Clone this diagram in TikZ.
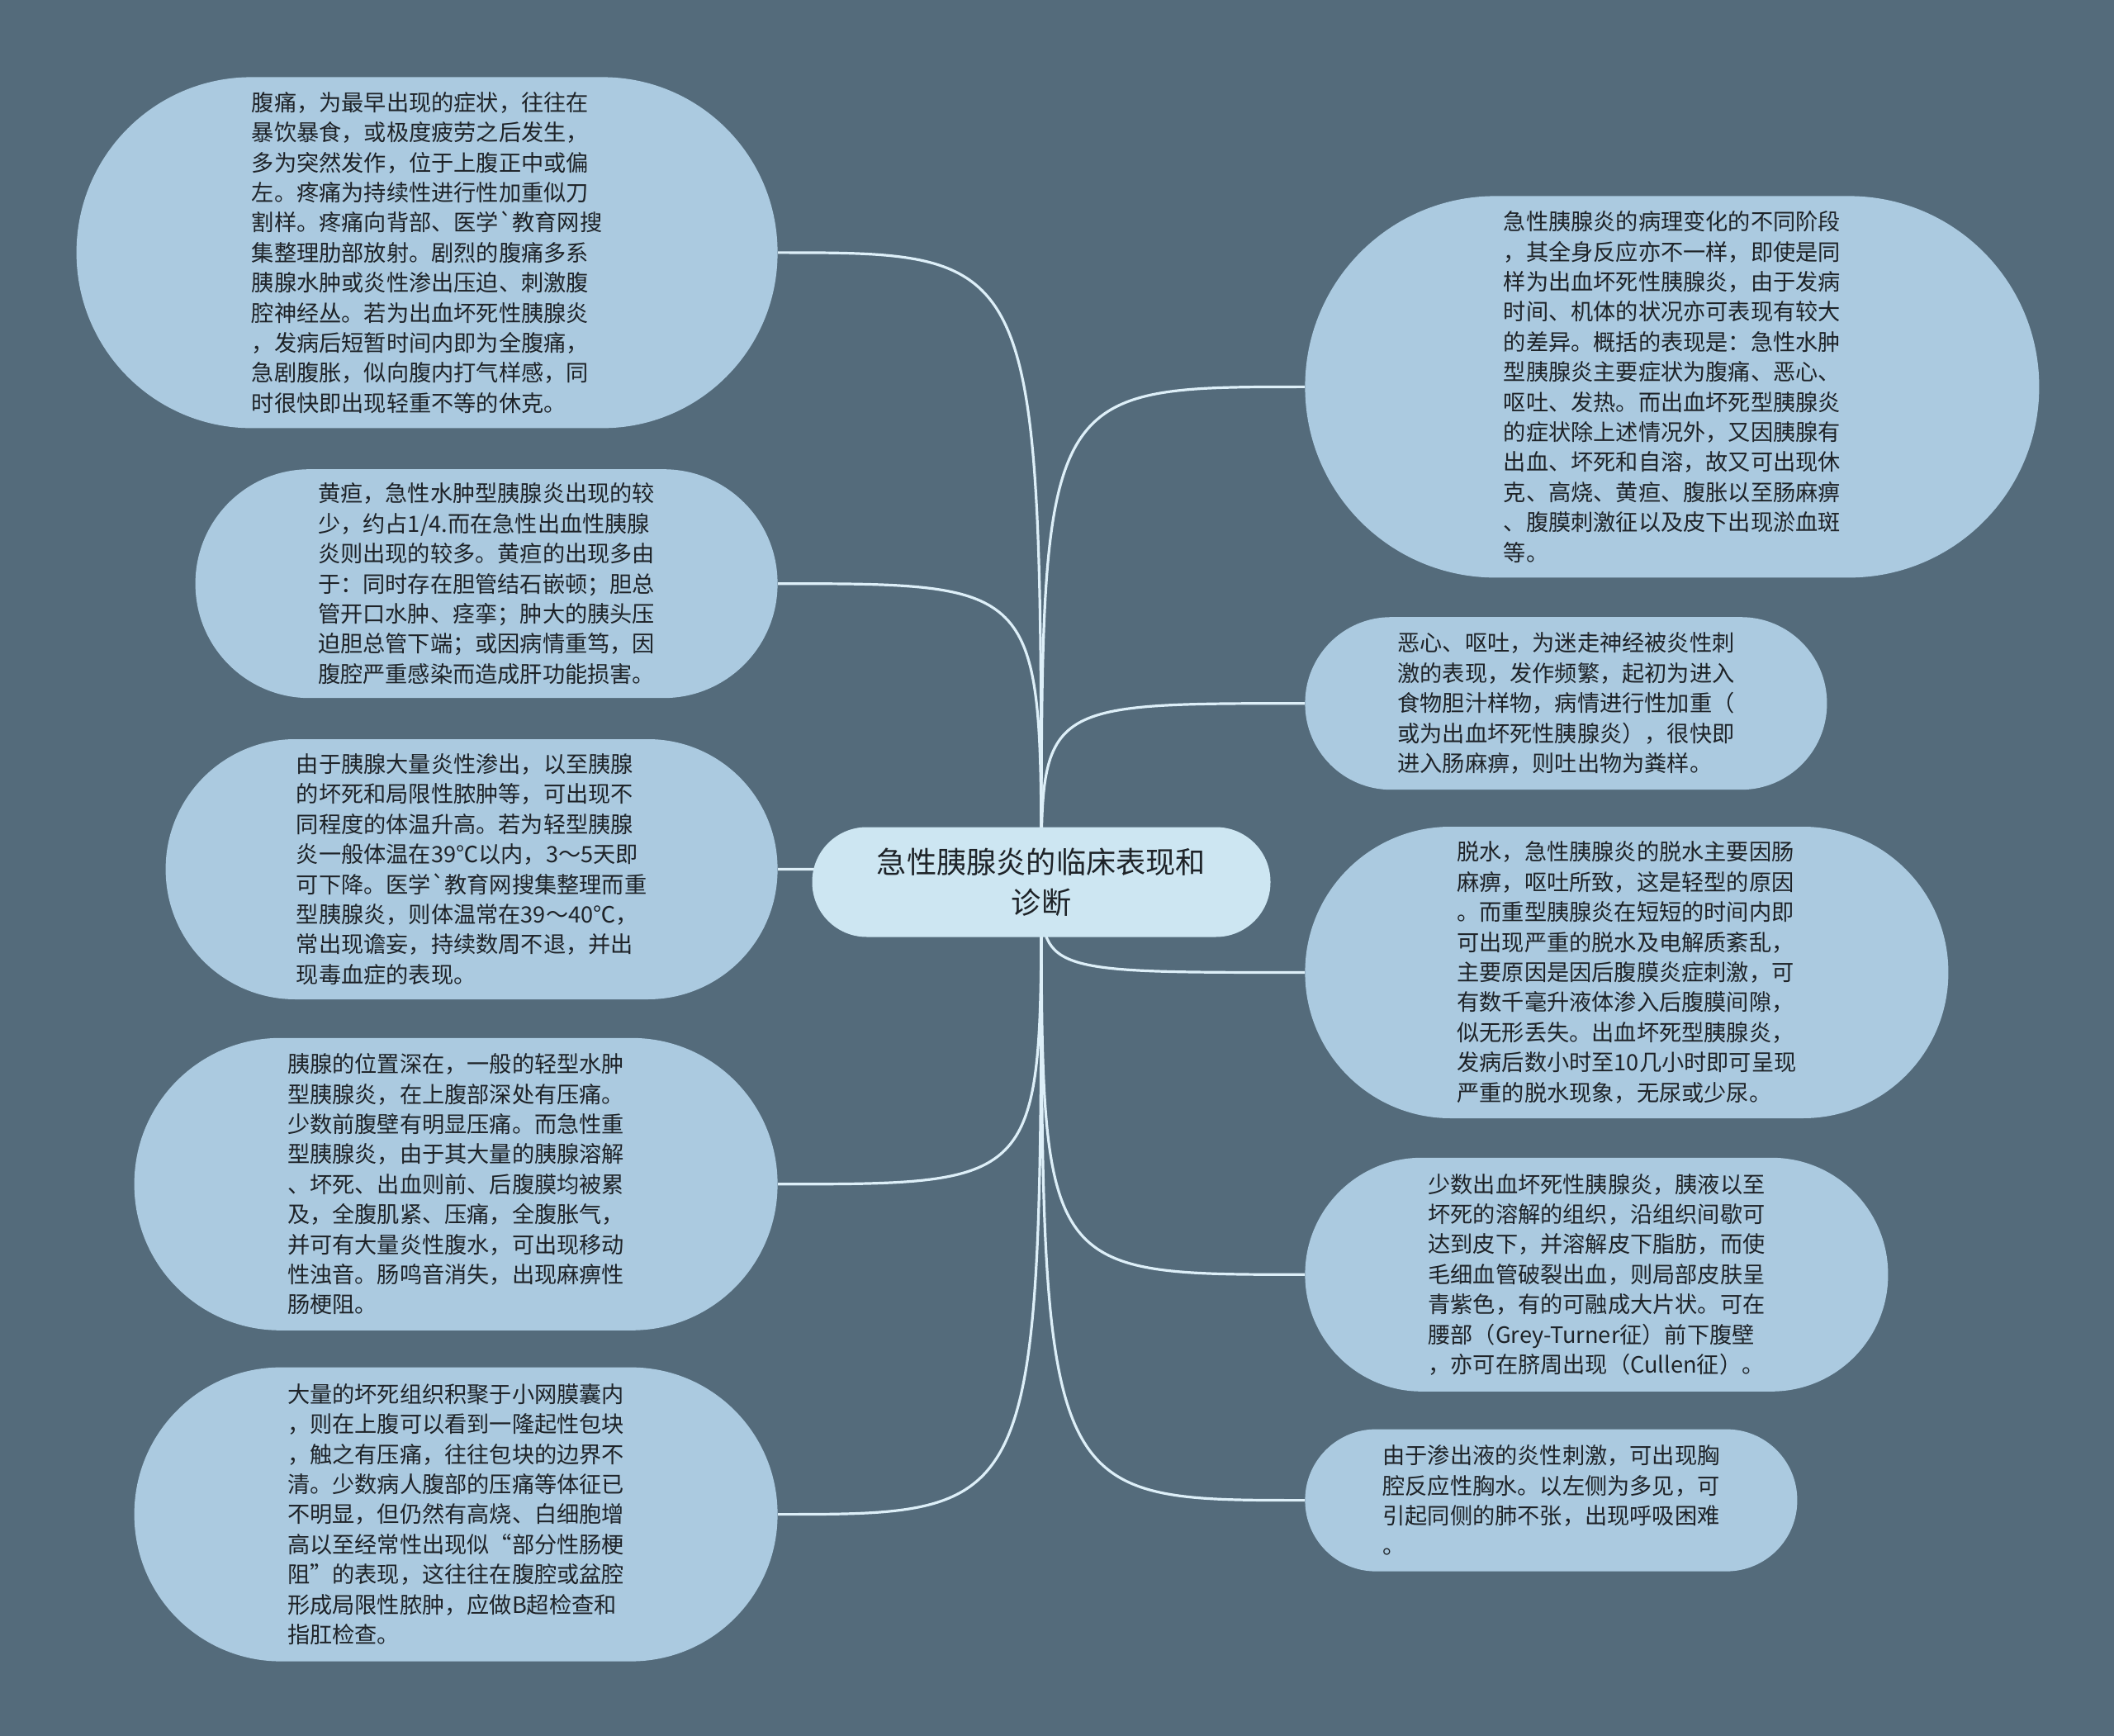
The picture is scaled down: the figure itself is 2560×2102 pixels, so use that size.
\documentclass[tikz,border=0pt]{standalone}
\usepackage{fontspec}
\usepackage{tikz}
\usetikzlibrary{positioning}
\newfontfamily\cjk{Noto Sans CJK SC}[Ligatures=TeXOff]
\definecolor{mapslate}{HTML}{546B7B}
\definecolor{mapleaf}{HTML}{ABCAE0}
\definecolor{maproot}{HTML}{CDE6F2}
\definecolor{mapwire}{HTML}{DDEFF8}
\definecolor{mapink}{HTML}{1E2328}
\pgfdeclarelayer{backdrop}
\pgfdeclarelayer{links}
\pgfsetlayers{backdrop,links,main}
\tikzset{
    pill/.style 2 args={minimum width=#1pt,minimum height=#2pt,rounded corners=#2*0.5pt-0.2pt},
    root/.style={fill=maproot,text=mapink,inner sep=0pt,align=center,font=\cjk\fontsize{18.1}{24.5}\selectfont},
    leaf/.style={fill=mapleaf,text=mapink,inner sep=0pt,align=left,font=\cjk\fontsize{13.6}{18.2}\selectfont},
    link/.style={draw=mapwire,line width=1.6pt,to path={.. controls (\tikztostart |- \tikztotarget) .. (\tikztotarget) \tikztonodes}},
}

\begin{document}
\begin{tikzpicture}[x=0.5pt,y=-0.5pt]
    \begin{pgfonlayer}{backdrop}
        \fill[mapslate] (0,0) rectangle (2560,2102);
    \end{pgfonlayer}

    \node[root,pill={277.5}{66.5}] (ctr) at (1261,1068) {急性胰腺炎的临床表现和\\诊断};

    \node[leaf,pill={424.5}{212.5},anchor=north east] (l1) at (942,93) {腹痛，为最早出现的症状，往往在\\暴饮暴食，或极度疲劳之后发生，\\多为突然发作，位于上腹正中或偏\\左。疼痛为持续性进行性加重似刀\\割样。疼痛向背部、医学`教育网搜\\集整理肋部放射。剧烈的腹痛多系\\胰腺水肿或炎性渗出压迫、刺激腹\\腔神经丛。若为出血坏死性胰腺炎\\，发病后短暂时间内即为全腹痛，\\急剧腹胀，似向腹内打气样感，同\\时很快即出现轻重不等的休克。};
    \node[leaf,pill={352.5}{138.5},below=24.5pt of l1.south east,anchor=north east] (l2) {黄疸，急性水肿型胰腺炎出现的较\\少，约占1/4.而在急性出血性胰腺\\炎则出现的较多。黄疸的出现多由\\于：同时存在胆管结石嵌顿；胆总\\管开口水肿、痉挛；肿大的胰头压\\迫胆总管下端；或因病情重笃，因\\腹腔严重感染而造成肝功能损害。};
    \node[leaf,pill={370.5}{157.5},below=24.5pt of l2.south east,anchor=north east] (l3) {由于胰腺大量炎性渗出，以至胰腺\\的坏死和局限性脓肿等，可出现不\\同程度的体温升高。若为轻型胰腺\\炎一般体温在39℃以内，3～5天即\\可下降。医学`教育网搜集整理而重\\型胰腺炎，则体温常在39～40℃，\\常出现谵妄，持续数周不退，并出\\现毒血症的表现。};
    \node[leaf,pill={389.5}{177},below=23pt of l3.south east,anchor=north east] (l4) {胰腺的位置深在，一般的轻型水肿\\型胰腺炎，在上腹部深处有压痛。\\少数前腹壁有明显压痛。而急性重\\型胰腺炎，由于其大量的胰腺溶解\\、坏死、出血则前、后腹膜均被累\\及，全腹肌紧、压痛，全腹胀气，\\并可有大量炎性腹水，可出现移动\\性浊音。肠鸣音消失，出现麻痹性\\肠梗阻。};
    \node[leaf,pill={389.5}{178},below=22pt of l4.south east,anchor=north east] (l5) {大量的坏死组织积聚于小网膜囊内\\，则在上腹可以看到一隆起性包块\\，触之有压痛，往往包块的边界不\\清。少数病人腹部的压痛等体征已\\不明显，但仍然有高烧、白细胞增\\高以至经常性出现似“部分性肠梗\\阻”的表现，这往往在腹腔或盆腔\\形成局限性脓肿，应做B超检查和\\指肛检查。};

    \node[leaf,pill={444.5}{231},anchor=north west] (r1) at (1580,237) {急性胰腺炎的病理变化的不同阶段\\，其全身反应亦不一样，即使是同\\样为出血坏死性胰腺炎，由于发病\\时间、机体的状况亦可表现有较大\\的差异。概括的表现是：急性水肿\\型胰腺炎主要症状为腹痛、恶心、\\呕吐、发热。而出血坏死型胰腺炎\\的症状除上述情况外，又因胰腺有\\出血、坏死和自溶，故又可出现休\\克、高烧、黄疸、腹胀以至肠麻痹\\、腹膜刺激征以及皮下出现淤血斑\\等。};
    \node[leaf,pill={316}{104.5},below=23.5pt of r1.south west,anchor=north west] (r2) {恶心、呕吐，为迷走神经被炎性刺\\激的表现，发作频繁，起初为进入\\食物胆汁样物，病情进行性加重（\\或为出血坏死性胰腺炎），很快即\\进入肠麻痹，则吐出物为粪样。};
    \node[leaf,pill={389.5}{176.5},below=22pt of r2.south west,anchor=north west] (r3) {脱水，急性胰腺炎的脱水主要因肠\\麻痹，呕吐所致，这是轻型的原因\\。而重型胰腺炎在短短的时间内即\\可出现严重的脱水及电解质紊乱，\\主要原因是因后腹膜炎症刺激，可\\有数千毫升液体渗入后腹膜间隙，\\似无形丢失。出血坏死型胰腺炎，\\发病后数小时至10几小时即可呈现\\严重的脱水现象，无尿或少尿。};
    \node[leaf,pill={353}{141.5},below=23.5pt of r3.south west,anchor=north west] (r4) {少数出血坏死性胰腺炎，胰液以至\\坏死的溶解的组织，沿组织间歇可\\达到皮下，并溶解皮下脂肪，而使\\毛细血管破裂出血，则局部皮肤呈\\青紫色，有的可融成大片状。可在\\腰部（Grey-Turner征）前下腹壁\\，亦可在脐周出现（Cullen征）。};
    \node[leaf,pill={298}{86},below=22.5pt of r4.south west,anchor=north west] (r5) {由于渗出液的炎性刺激，可出现胸\\腔反应性胸水。以左侧为多见，可\\引起同侧的肺不张，出现呼吸困难\\。};

    \begin{pgfonlayer}{links}
        \path
        (ctr.center) edge[link] (l1.east)
        (ctr.center) edge[link] (l2.east)
        (ctr.center) edge[link] (l3.east)
        (ctr.center) edge[link] (l4.east)
        (ctr.center) edge[link] (l5.east)
        (ctr.center) edge[link] (r1.west)
        (ctr.center) edge[link] (r2.west)
        (ctr.center) edge[link] (r3.west)
        (ctr.center) edge[link] (r4.west)
        (ctr.center) edge[link] (r5.west);
    \end{pgfonlayer}
\end{tikzpicture}
\end{document}
